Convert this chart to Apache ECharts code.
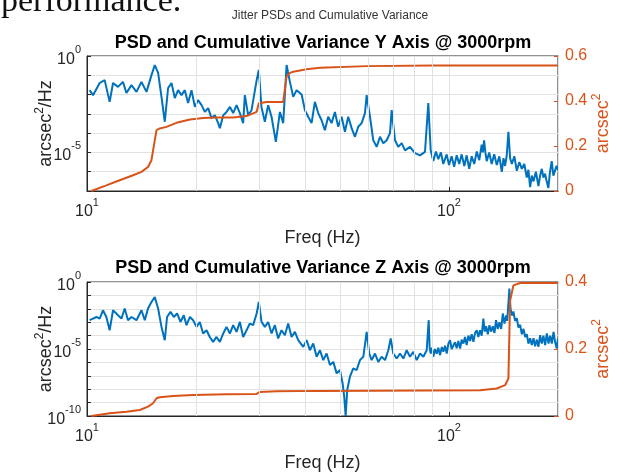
<!DOCTYPE html>
<html>
<head>
<meta charset="utf-8">
<script src="https://cdn.jsdelivr.net/npm/echarts@6/dist/echarts.min.js"></script>
<style>
html,body{margin:0;padding:0;background:#fff;}
#main{width:620px;height:474px;}
</style>
</head>
<body>
<div id="main"></div>
<script>
// Y axis PSD (log10 of arcsec^2/Hz)
const yPsdFreq = [10.17,10.39,10.84,11.19,11.55,11.80,12.18,12.57,12.85,13.27,13.70,14.14,14.60,15.07,15.39,15.72,16.06,16.40,16.75,17.12,17.48,17.85,18.24,18.63,19.02,19.44,19.86,20.27,20.72,21.16,21.61,22.08,22.55,23.03,23.28,23.79,24.29,24.82,25.34,25.89,26.44,27.00,27.29,27.87,28.48,29.42,29.83,30.33,30.99,31.65,32.34,33.24,34.11,34.83,35.59,36.35,37.12,37.93,
  39.16,40.00,40.83,41.72,42.61,43.52,44.46,45.41,46.37,47.39,48.39,49.42,50.50,51.58,52.67,53.83,54.97,56.14,57.36,58.59,59.23,60.49,61.77,63.12,64.46,65.83,67.27,68.70,69.44,70.92,72.42,74.00,75.57,78.02,80.54,83.14,85.83,87.66,
  89.0,90.5,92.0,93.4,95.0,96.4,98.5,100.0,101.7,103.3,105.0,106.7,108.4,110.2,111.9,113.7,115.5,117.4,119.3,121.2,123.1,124.0,125.0,126.0,127.1,129.1,131.2,133.3,135.5,137.7,139.9,141.4,142.8,144.3,145.9,147.5,149.1,151.5,153.9,156.4,158.9,161.4,164.0,165.7,167.5,169.3,171.1,173.8,176.6,178.5,180.4,182.3,184.2,186.1,188.1,190.1,192.2,194.2,196.3,198.2,200];
const yPsdLog = [-1.77,-2.03,-1.40,-1.25,-2.38,-1.40,-1.60,-1.34,-1.92,-1.51,-1.86,-1.34,-1.86,-0.99,-0.47,-0.88,-2.12,-3.41,-1.66,-1.40,-2.18,-1.77,-2.03,-1.77,-2.44,-1.77,-2.64,-2.29,-2.55,-2.90,-2.70,-3.22,-3.07,-3.48,-3.74,-3.07,-2.90,-2.64,-2.96,-2.55,-2.96,-3.48,-2.03,-3.07,-2.81,-1.25,-0.73,-2.64,-3.41,-2.55,-3.15,-4.45,-2.90,-3.48,-0.47,-1.34,-2.12,-1.77,
  -2.00,-2.81,-3.15,-3.48,-2.38,-2.96,-3.33,-3.85,-3.15,-3.48,-2.90,-3.67,-3.15,-3.93,-3.15,-3.74,-4.19,-3.67,-3.48,-2.96,-2.03,-3.15,-4.37,-4.71,-4.19,-4.52,-4.37,-4.00,-2.81,-4.37,-4.71,-4.52,-4.89,-4.71,-5.04,-5.15,-4.97,-2.44,
  -4.89,-5.45,-4.95,-5.35,-5.00,-5.60,-5.10,-5.65,-5.20,-5.75,-5.15,-5.60,-5.10,-5.70,-5.15,-5.85,-5.20,-5.60,-4.95,-5.40,-4.60,-5.00,-4.37,-5.00,-5.45,-5.00,-5.60,-5.10,-5.65,-5.20,-6.01,-5.30,-5.70,-5.20,-3.93,-5.30,-5.60,-5.20,-5.95,-5.50,-5.85,-5.60,-6.30,-5.90,-6.80,-6.20,-6.50,-6.00,-6.75,-6.20,-5.85,-6.30,-6.10,-6.50,-6.85,-6.00,-5.45,-6.20,-6.10,-5.70,-5.90];

// Y axis cumulative variance (arcsec^2)
const yCumFreq = [10.28,10.39,11.31,12.31,13.40,14.14,14.74,15.07,15.39,15.56,15.88,16.58,17.66,19.25,20.93,22.79,25.34,27.59,29.42,29.83,30.03,31.37,34.83,35.20,35.59,36.35,37.12,40.43,44.00,59.23,90.51,200];
const yCum = [0,0.003,0.025,0.048,0.070,0.085,0.107,0.137,0.226,0.270,0.278,0.285,0.303,0.318,0.324,0.327,0.327,0.333,0.352,0.390,0.394,0.396,0.396,0.400,0.508,0.525,0.530,0.541,0.548,0.555,0.558,0.558];

// Z axis PSD
const zPsdFreq = [10.17,10.39,10.62,10.84,11.07,11.31,11.55,11.80,12.18,12.45,12.71,12.98,13.27,13.70,14.14,14.44,14.74,15.07,15.39,15.72,16.06,16.40,16.64,17.01,17.37,17.74,18.12,18.51,18.83,19.25,19.64,20.07,20.49,20.93,21.39,21.84,22.30,22.79,23.28,23.79,24.29,24.82,25.34,25.89,26.44,27.00,27.59,28.17,28.77,29.42,29.83,30.35,31.00,31.65,32.35,33.03,33.73,34.47,35.20,35.95,36.74,37.52,38.32,
  39.56,40.43,41.28,42.16,43.08,44.00,44.94,45.91,46.89,47.90,48.93,49.97,50.83,51.35,51.81,52.34,53.25,54.39,55.57,56.76,57.97,59.23,60.21,61.14,62.43,63.77,65.16,66.55,67.98,69.00,70.15,71.68,73.22,74.79,76.39,78.03,79.70,81.41,83.16,84.94,86.77,
  87.88,88.4,89.0,89.7,90.51,91.5,92.47,93.4,94.45,95.5,96.48,97.5,98.54,99.6,100.66,101.7,102.82,103.9,105.0,106.1,107.3,108.4,109.6,110.7,111.9,113.1,114.3,115.5,116.8,118.0,119.3,120.5,121.8,123.1,124.4,125.5,126.6,128.0,129.3,130.7,132.1,133.5,134.9,136.3,137.8,139.3,140.8,142.3,143.8,144.8,145.9,146.8,147.5,148.1,149.3,150.6,152.2,153.9,155.5,157.2,158.9,160.6,162.3,164.0,165.7,167.5,169.3,171.1,172.9,174.8,176.6,178.5,180.4,182.3,184.3,186.3,188.3,190.3,192.3,194.4,196.4,198.5,200];
const zPsdLog = [-2.85,-2.73,-2.61,-2.73,-2.11,-2.61,-3.60,-2.11,-2.48,-2.73,-1.98,-2.85,-2.61,-2.85,-2.11,-2.85,-1.98,-1.49,-1.12,-1.98,-3.35,-4.34,-2.61,-2.23,-2.61,-2.35,-2.98,-2.48,-3.22,-2.61,-2.85,-3.35,-2.98,-3.84,-3.60,-4.10,-4.47,-4.10,-4.47,-3.84,-3.35,-3.84,-3.22,-3.72,-2.98,-4.10,-3.60,-3.10,-3.22,-2.35,-1.49,-2.98,-3.35,-2.98,-3.84,-3.22,-4.21,-3.60,-3.97,-3.10,-4.10,-3.72,-4.34,
  -4.84,-4.34,-5.09,-4.59,-5.58,-5.09,-5.83,-5.34,-6.20,-5.96,-6.82,-6.57,-7.57,-8.56,-10.0,-8.06,-7.07,-6.45,-6.57,-5.83,-5.58,-3.72,-5.34,-5.83,-5.34,-5.96,-5.58,-5.83,-5.09,-4.21,-5.34,-5.71,-5.34,-5.71,-5.09,-5.58,-5.21,-5.83,-5.34,-5.58,-5.09,
  -2.85,-4.90,-5.34,-4.90,-5.58,-5.00,-5.35,-4.90,-5.46,-4.85,-5.20,-4.75,-5.34,-4.60,-4.34,-5.00,-5.09,-4.50,-4.95,-4.40,-4.96,-4.30,-4.60,-4.10,-4.71,-4.00,-4.40,-3.90,-4.47,-3.80,-3.60,-4.10,-3.60,-4.00,-2.73,-3.70,-3.30,-3.90,-3.22,-3.70,-3.30,-3.80,-2.85,-3.50,-3.00,-3.50,-2.35,-3.10,-2.50,-2.90,-1.61,-0.49,-1.60,-2.11,-2.50,-2.20,-2.90,-2.70,-3.40,-3.20,-3.90,-3.50,-4.10,-3.90,-4.60,-4.20,-4.71,-4.20,-4.80,-4.30,-4.84,-3.97,-4.60,-4.00,-4.71,-3.84,-4.60,-4.00,-4.59,-3.72,-4.50,-4.96,-4.20];

// Z axis cumulative variance
const zCumFreq = [10.28,11.55,12.85,13.99,14.74,15.22,15.56,15.88,17.29,19.64,24.29,29.42,30.03,33.39,44.00,121.8,135.5,142.8,145.9,146.8,147.5,150.6,157.2,200];
const zCum = [0,0.008,0.013,0.018,0.028,0.038,0.053,0.056,0.060,0.063,0.065,0.066,0.072,0.074,0.075,0.077,0.082,0.092,0.112,0.246,0.345,0.390,0.397,0.397];

const minorFreq = [20,30,40,50,60,70,80,90,200];
const titles = ['PSD and Cumulative Variance Y Axis @ 3000rpm', 'PSD and Cumulative Variance Z Axis @ 3000rpm'];

const FONT = 'Liberation Sans';
const BLUE = '#0072BD', ORANGE = '#D95319', AXIS = '#262626', GRID = '#e2e2e2';

const chart = echarts.init(document.getElementById('main'), null, {renderer: 'canvas'});

function logPairs(f, e) { return f.map((x, i) => [x, Math.pow(10, e[i])]); }
function linPairs(f, v) { return f.map((x, i) => [x, v[i]]); }
function expOf(v) { return Math.round(Math.log10(v)); }
function isPow(v) { const l = Math.log10(v); return Math.abs(l - Math.round(l)) < 1e-6; }

const supRich = {
  b: {fontFamily: FONT, fontSize: 16, color: AXIS, lineHeight: 23, verticalAlign: 'bottom'},
  s: {fontFamily: FONT, fontSize: 11, color: AXIS, lineHeight: 23, verticalAlign: 'top'}
};

const grids = [
  {left: 87, right: 62, top: 56, height: 135, show: true, borderColor: AXIS, borderWidth: 1},
  {left: 87, right: 62, top: 282, height: 134, show: true, borderColor: AXIS, borderWidth: 1}
];

function xAx(gi) {
  return {
    type: 'log', logBase: 10, gridIndex: gi, min: 10, max: 200, interval: 1,
    name: 'Freq (Hz)', nameLocation: 'middle', nameGap: 38, nameMoveOverlap: false,
    nameTextStyle: {fontFamily: FONT, fontSize: 18, color: AXIS},
    axisLine: {show: true, lineStyle: {color: AXIS}},
    axisTick: {show: true, inside: true, length: 4, lineStyle: {color: AXIS}},
    axisLabel: {margin: 6, rich: supRich,
      formatter: v => isPow(v) ? '{b|10}{s|' + expOf(v) + '}' : ''},
    splitLine: {show: true, lineStyle: {color: GRID}}
  };
}
function leftAx(gi, minV) {
  return {
    type: 'log', logBase: 10, gridIndex: gi, min: minV, max: 1, interval: 1, position: 'left',
    name: 'arcsec{s|2}/Hz', nameLocation: 'middle', nameGap: 29, nameRotate: 90, nameMoveOverlap: false,
    nameTextStyle: {fontFamily: FONT, fontSize: 18, color: AXIS,
      rich: {s: {fontFamily: FONT, fontSize: 12, color: AXIS, lineHeight: 24, verticalAlign: 'top'}}},
    axisLine: {show: true, lineStyle: {color: AXIS}},
    axisTick: {show: true, inside: true, length: 4, lineStyle: {color: AXIS}},
    axisLabel: {margin: 6, rich: supRich,
      formatter: v => expOf(v) % 5 === 0 ? '{b|10}{s|' + expOf(v) + '}' : ''},
    splitLine: {show: true, lineStyle: {color: GRID}}
  };
}
function rightAx(gi, maxV) {
  return {
    type: 'value', gridIndex: gi, min: 0, max: maxV, interval: 0.2, position: 'right',
    name: 'arcsec{s|2}', nameLocation: 'middle', nameGap: 33, nameRotate: 90, nameMoveOverlap: false,
    nameTextStyle: {fontFamily: FONT, fontSize: 18, color: ORANGE,
      rich: {s: {fontFamily: FONT, fontSize: 12, color: ORANGE, lineHeight: 24, verticalAlign: 'top'}}},
    axisLine: {show: true, lineStyle: {color: ORANGE}},
    axisTick: {show: true, inside: true, length: 4, lineStyle: {color: ORANGE}},
    axisLabel: {margin: 7, fontFamily: FONT, fontSize: 16, color: ORANGE},
    splitLine: {show: false}
  };
}

function gridLines(xi, yi) {
  return {
    type: 'line', xAxisIndex: xi, yAxisIndex: yi, data: [], z: 1, silent: true,
    markLine: {silent: true, symbol: ['none', 'none'], label: {show: false}, animation: false,
      lineStyle: {color: GRID, type: 'solid', width: 1},
      data: minorFreq.map(f => ({xAxis: f}))}
  };
}
function psdSeries(xi, yi, data) {
  return {type: 'line', xAxisIndex: xi, yAxisIndex: yi, data: data, showSymbol: false, z: 3,
    lineStyle: {color: BLUE, width: 2}, itemStyle: {color: BLUE}};
}
function cumSeries(xi, yi, data) {
  return {type: 'line', xAxisIndex: xi, yAxisIndex: yi, data: data, showSymbol: false, z: 4,
    lineStyle: {color: ORANGE, width: 2}, itemStyle: {color: ORANGE}};
}

chart.setOption({
  animation: false,
  backgroundColor: '#fff',
  grid: grids,
  xAxis: [xAx(0), xAx(1)],
  yAxis: [leftAx(0, 1e-7), rightAx(0, 0.6), leftAx(1, 1e-10), rightAx(1, 0.4)],
  series: [
    gridLines(0, 0), gridLines(1, 2),
    psdSeries(0, 0, logPairs(yPsdFreq, yPsdLog)),
    cumSeries(0, 1, linPairs(yCumFreq, yCum)),
    psdSeries(1, 2, logPairs(zPsdFreq, zPsdLog)),
    cumSeries(1, 3, linPairs(zCumFreq, zCum))
  ],
  graphic: [
    {type: 'text', left: 1, top: -15, style: {text: 'performance.', font: '34px "Liberation Serif"', fill: '#111'}},
    {type: 'text', x: 330, y: 16, style: {text: 'Jitter PSDs and Cumulative Variance', font: '12px "Liberation Sans"', fill: '#333', textAlign: 'center', textVerticalAlign: 'middle'}},
    {type: 'text', x: 323, y: 43, style: {text: titles[0], font: 'bold 18px "Liberation Sans"', fill: '#000', textAlign: 'center', textVerticalAlign: 'middle'}},
    {type: 'text', x: 323, y: 268, style: {text: titles[1], font: 'bold 18px "Liberation Sans"', fill: '#000', textAlign: 'center', textVerticalAlign: 'middle'}}
  ]
});
</script>
</body>
</html>
